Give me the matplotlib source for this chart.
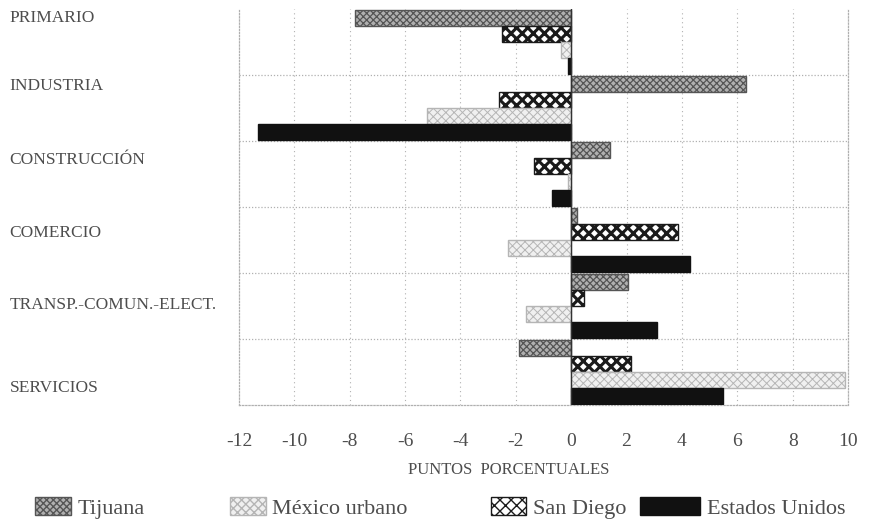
import matplotlib
matplotlib.use("Agg")
import matplotlib.pyplot as plt
import matplotlib.patches as mpatches
import matplotlib.transforms as mtransforms
import numpy as np

categories = ["PRIMARIO", "INDUSTRIA", "CONSTRUCCIÓN", "COMERCIO",
              "TRANSP.-COMUN.-ELECT.", "SERVICIOS"]
# bar order inside each group, top to bottom
series_names = ["Tijuana", "San Diego", "México urbano", "Estados Unidos"]
legend_order = ["Tijuana", "México urbano", "San Diego", "Estados Unidos"]

tijuana = [-7.8, 6.3, 1.4, 0.2, 2.05, -1.9]
san_diego = [-2.5, -2.6, -1.35, 3.85, 0.45, 2.15]
mexico_urbano = [-0.35, -5.2, -0.1, -2.3, -1.65, 9.9]
estados_unidos = [-0.1, -11.3, -0.7, 4.3, 3.1, 5.5]

x_ticks = [-12, -10, -8, -6, -4, -2, 0, 2, 4, 6, 8, 10]

TEXT = "#4d4d4d"
GRID = "#b0b0b0"
SERIF = ["Liberation Serif", "DejaVu Serif"]

# fill style per series: face, edge, hatch, hatch linewidth
STYLES = {
    "Tijuana": ("#b0b0b0", "#555555", "xxxxx", 0.9),
    "San Diego": ("white", "#1a1a1a", "xxx", 2.2),
    "México urbano": ("#f0f0f0", "#b5b5b5", "xxxx", 0.7),
    "Estados Unidos": ("#111111", "#111111", None, 1.0),
}

plt.rcParams["font.family"] = SERIF

fig = plt.figure(figsize=(8.71, 5.25), dpi=100)
ax = fig.add_axes([0.2744, 0.2286, 0.6992, 0.7543])

y = np.arange(len(categories))
bar_h = 0.24
offsets = [-0.36, -0.12, 0.12, 0.36]
values = [tijuana, san_diego, mexico_urbano, estados_unidos]

handles = {}
for name, vals, off in zip(series_names, values, offsets):
    face, edge, hatch, hlw = STYLES[name]
    with plt.rc_context({"hatch.linewidth": hlw}):
        bars = ax.barh(y + off, vals, height=bar_h, color=face,
                       edgecolor=edge, hatch=hatch, linewidth=1.0, zorder=3)
        for b in bars:
            if hasattr(b, "set_hatch_linewidth"):
                b.set_hatch_linewidth(hlw)
        h = mpatches.Patch(facecolor=face, edgecolor=edge, hatch=hatch)
        if hasattr(h, "set_hatch_linewidth"):
            h.set_hatch_linewidth(hlw)
    handles[name] = h

ax.set_xlim(-12, 10)
ax.set_ylim(len(categories) - 0.5, -0.5)

# grid
for t in x_ticks[1:]:
    ax.axvline(t, color=GRID, linestyle=(0, (1, 3)), linewidth=0.8, zorder=1)
for b in np.arange(0.5, len(categories) - 0.5, 1.0):
    ax.axhline(b, color=GRID, linestyle=(0, (1, 1.5)), linewidth=0.9, zorder=1)
ax.axvline(0, color="#333333", linewidth=1.0, zorder=4)

for side in ["left", "right", "bottom"]:
    ax.spines[side].set_color(GRID)
    ax.spines[side].set_linestyle((0, (1, 1.5)))
    ax.spines[side].set_linewidth(0.9)
ax.spines["top"].set_visible(False)

ax.set_xticks(x_ticks)
ax.set_xticklabels([str(t) for t in x_ticks])
ax.tick_params(axis="x", length=0, pad=20, labelsize=14, labelcolor=TEXT)
ax.set_yticks([])

# category labels, left aligned at the figure edge
label_pos = [0.14, 0.17, 0.29, 0.39, 0.49, 0.74]
trans = mtransforms.blended_transform_factory(fig.transFigure, ax.transData)
for i, cat in enumerate(categories):
    ax.text(0.011, i - 0.5 + label_pos[i], cat, transform=trans,
            ha="left", va="center", fontsize=12.5, color=TEXT)

fig.text(0.584, 0.105, "PUNTOS  PORCENTUALES", ha="center", va="center",
         fontsize=12, color=TEXT)

# legend entries placed one by one, as in the original
legend_x = [0.025, 0.249, 0.548, 0.72]
legend_len = [1.6, 1.6, 1.6, 2.7]
for name, lx, hl in zip(legend_order, legend_x, legend_len):
    fig.legend(handles=[handles[name]], labels=[name], loc="lower left",
               bbox_to_anchor=(lx, -0.014), frameon=False, fontsize=16,
               handlelength=hl, handleheight=0.85, handletextpad=0.3,
               labelcolor=TEXT, borderaxespad=0.2)

fig.savefig("out.png", dpi=100)
